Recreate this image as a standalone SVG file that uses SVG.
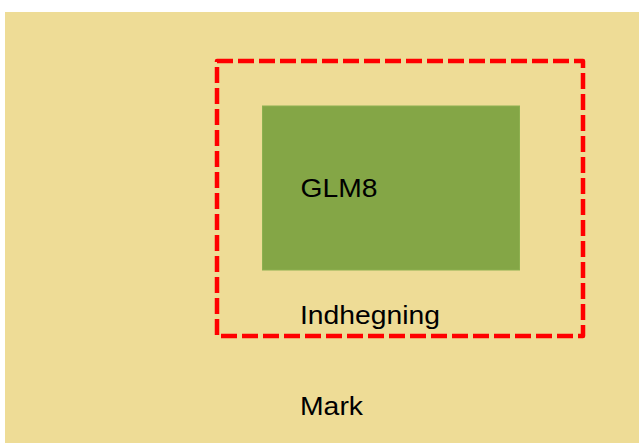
<svg xmlns="http://www.w3.org/2000/svg" width="639" height="443" viewBox="0 0 639 443">
<style>
.lbl{font-family:"Liberation Sans",Arial,sans-serif;font-size:26px;fill:#000}
</style>
<rect x="0" y="0" width="639" height="443" fill="#ffffff"/>
<g id="mark">
<rect x="5" y="12" width="634" height="431" fill="#EEDC96"/>
<text class="lbl" x="300" y="415" textLength="63" lengthAdjust="spacingAndGlyphs">Mark</text>
</g>
<g id="indhegning">
<rect x="217" y="61" width="366" height="275" fill="none" stroke="#FF0000" stroke-width="4.5" stroke-dasharray="16 5" stroke-linejoin="round"/>
<text class="lbl" x="300" y="324" textLength="140" lengthAdjust="spacingAndGlyphs">Indhegning</text>
</g>
<g id="glm8">
<rect x="262.5" y="106" width="257" height="164" fill="#84A646" stroke="#8DB050" stroke-width="1"/>
<text class="lbl" x="300.5" y="197" textLength="77" lengthAdjust="spacingAndGlyphs">GLM8</text>
</g>
</svg>
